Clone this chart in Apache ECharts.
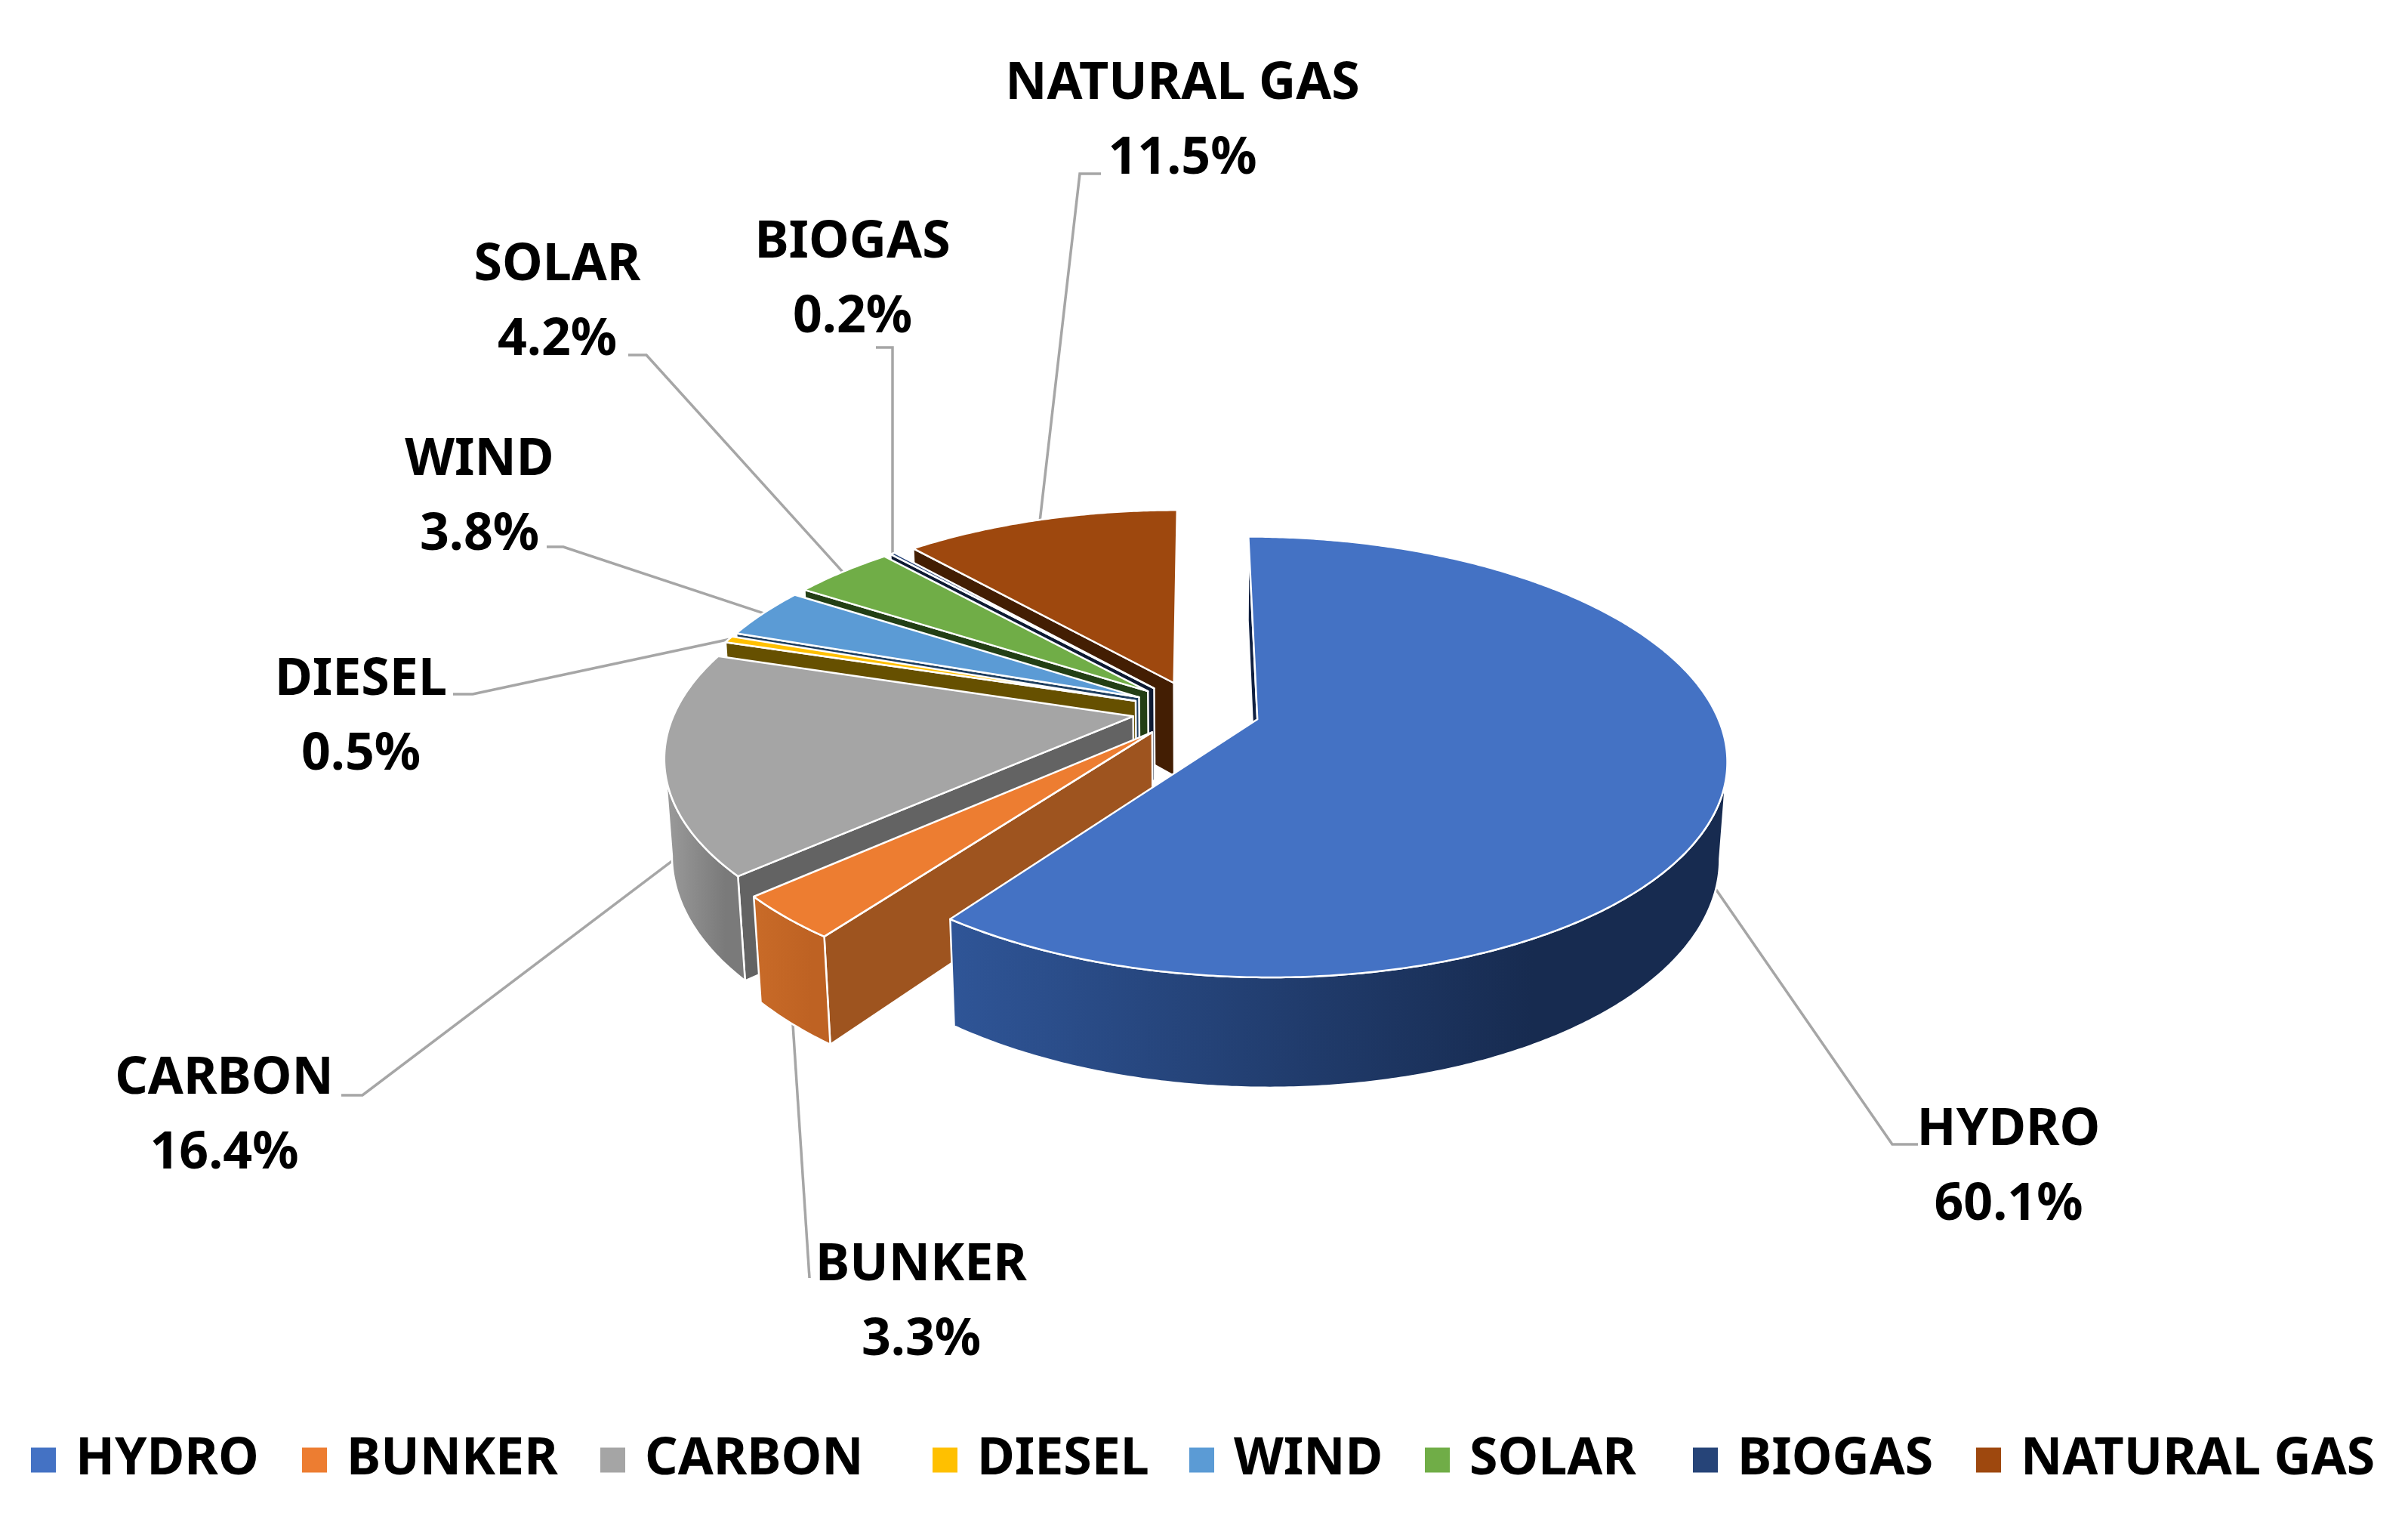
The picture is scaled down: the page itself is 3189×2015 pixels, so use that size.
<!DOCTYPE html>
<html>
<head>
<meta charset="utf-8">
<style>html,body{margin:0;padding:0;background:#fff}#chart{width:3189px;height:2015px}</style>
<script src="https://cdn.jsdelivr.net/npm/echarts@6/dist/echarts.min.js"></script>
</head>
<body>
<div id="chart"></div>
<script>
// ---- data ----
const categories = ['HYDRO','BUNKER','CARBON','DIESEL','WIND','SOLAR','BIOGAS','NATURAL GAS'];
const shares     = [60.1, 3.3, 16.4, 0.5, 3.8, 4.2, 0.2, 11.5];
// ---- styling ----
const topColors  = ['#4472C4','#ED7D31','#A5A5A5','#FFC000','#5B9BD5','#70AD47','#264478','#9E480E'];
const faceColors = ['#0F1F40','#9E541F','#636363','#665000','#1F3F60','#233F15','#0D1A33','#431E03'];
const rimColors  = [['#2F5597','#172B50'],['#C96B28','#BE6223'],['#9C9C9C','#7A7A7A'],['#997300','#997300'],
                    ['#37618A','#37618A'],['#43682B','#43682B'],['#16294A','#16294A'],['#5F2C08','#5F2C08']];
const drawOrder  = [8,7,6,5,4,3,2,1];
const legendLefts = [41,400,795,1235,1575,1887,2242,2617];
// Label block centres and leader-line elbows, on the page
const labelCentres = [[2660,1546],[1220,1725],[297,1478],[478,950],[635,659],[738,401],[1129,371],[1566,161]];
const leaderStarts = [[[2540,1515],[2506,1515]],[[1072,1692]],[[452,1450],[480,1450]],[[600,919],[626,919]],
                      [[724,724],[746,724]],[[832,470],[856,470]],[[1160,460],[1182,460]],[[1458,230],[1430,230]]];
const leaderAtBase = [1,1,1,0,0,0,0,0];

// ---- projection of a tilted, exploded pie ----
const CX = 1584, CY = 940, F = 606, G = 279, K = 0.17, DEPTH = 127, M = 0.014, EXPLODE = 0.14;
const FONT = '"Noto Sans"';
const total = shares.reduce((a, b) => a + b, 0);
function project(X, Y, z) {
  const w = 1 - K * Y + M * z;
  return [CX + F * X / w, CY + (G * Y + DEPTH * z) / w];
}
function sliceGeom(i) {
  let cum = 0;
  for (let j = 0; j < i; j++) cum += shares[j];
  const a0 = cum / total * 2 * Math.PI;
  const a1 = (cum + shares[i]) / total * 2 * Math.PI;
  const mid = (a0 + a1) / 2;
  const ox = EXPLODE * Math.sin(mid), oy = -EXPLODE * Math.cos(mid);
  const rim = (a, z) => project(ox + Math.sin(a), oy - Math.cos(a), z);
  return { a0, a1, mid, ox, oy, rim, apex: z => project(ox, oy, z) };
}
function renderSlice(params, api) {
  const i = params.seriesIndex;
  const g = sliceGeom(i);
  const n = Math.max(2, Math.ceil((g.a1 - g.a0) / (Math.PI / 360)));
  const top = [], base = [];
  for (let s = 0; s <= n; s++) {
    const a = g.a0 + (g.a1 - g.a0) * s / n;
    top.push(g.rim(a, 0));
    base.push(g.rim(a, 1));
  }
  const edge = { stroke: '#fff', lineWidth: 2.5, lineJoin: 'round' };
  const poly = (points, fill) => ({ type: 'polygon', shape: { points }, style: Object.assign({ fill }, edge) });
  const apexT = g.apex(0), apexB = g.apex(1);
  const children = [];
  const anchor = project(g.ox + Math.sin(g.mid), g.oy - Math.cos(g.mid), leaderAtBase[i]);
  children.push({ type: 'polyline', shape: { points: leaderStarts[i].concat([anchor]) },
                  style: { stroke: '#A6A6A6', lineWidth: 3.5, fill: null } });
  // radial wall on the end edge, only if it faces the viewer
  let ex = top[n][0] - apexT[0], ey = top[n][1] - apexT[1];
  let dx = base[n][0] - top[n][0], dy = base[n][1] - top[n][1];
  if (dx * (-ey) + dy * ex > 0) children.push(poly([apexT, top[n], base[n], apexB], faceColors[i]));
  // radial wall on the start edge, only if it faces the viewer
  ex = top[0][0] - apexT[0]; ey = top[0][1] - apexT[1];
  dx = base[0][0] - top[0][0]; dy = base[0][1] - top[0][1];
  if (dx * ey + dy * (-ex) > 0) children.push(poly([apexT, top[0], base[0], apexB], faceColors[i]));
  // outer wall: only the part of the rim that runs leftward on screen (the front of the pie)
  const frontTop = [], frontBase = [];
  for (let s = 0; s < n; s++) {
    if (top[s + 1][0] < top[s][0] && top[s + 1][1] + 60 > CY - 60) {
      if (!frontTop.length) { frontTop.push(top[s]); frontBase.push(base[s]); }
      frontTop.push(top[s + 1]); frontBase.push(base[s + 1]);
    }
  }
  if (frontTop.length > 1) {
    const rimFill = new echarts.graphic.LinearGradient(0, 0, 1, 0, [
      { offset: 0, color: rimColors[i][0] }, { offset: 0.75, color: rimColors[i][1] }, { offset: 1, color: rimColors[i][1] }]);
    children.push(poly(frontTop.concat(frontBase.slice().reverse()), rimFill));
  }
  children.push(poly([apexT].concat(top), topColors[i]));
  children.push({ type: 'text',
    style: { text: categories[i] + '\n' + api.value(0).toFixed(1) + '%',
             x: labelCentres[i][0], y: labelCentres[i][1], align: 'center', verticalAlign: 'middle',
             fontFamily: FONT, fontWeight: 700, fontSize: 68, lineHeight: 99, fill: '#000' } });
  return { type: 'group', children };
}
const chart = echarts.init(document.getElementById('chart'), null, { renderer: 'canvas' });
chart.setOption({
  animation: false,
  backgroundColor: '#fff',
  legend: categories.map((name, i) => ({
    data: [name], left: legendLefts[i], top: 1899, padding: 0, icon: 'rect', itemWidth: 33, itemHeight: 33,
    selectedMode: false,
    textStyle: { fontFamily: FONT, fontWeight: 700, fontSize: 68, color: '#000', padding: [0, 0, 0, 21] }
  })),
  series: categories.map((name, i) => ({
    type: 'custom', name, coordinateSystem: 'none', z: drawOrder[i],
    itemStyle: { color: topColors[i] }, data: [[shares[i]]], renderItem: renderSlice, silent: true
  }))
});
</script>
</body>
</html>
